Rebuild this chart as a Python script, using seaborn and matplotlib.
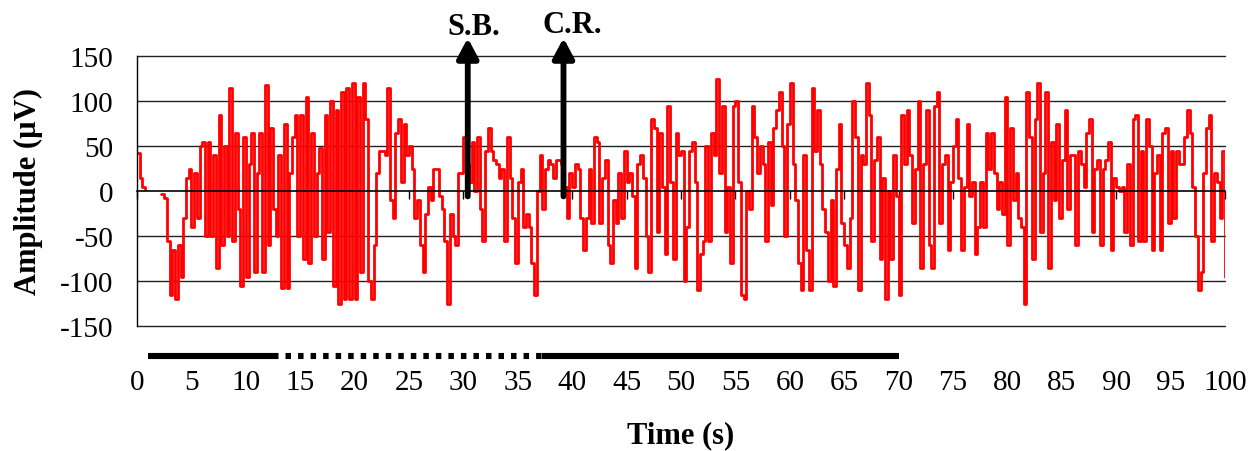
import numpy as np
import pandas as pd
import matplotlib
matplotlib.use("Agg")
import matplotlib.pyplot as plt
import matplotlib.transforms as mtransforms
import seaborn as sns

nan = np.nan
amp_00 = [42, 15, 4, 2, nan, nan, nan, nan, nan, -3, -8, -55, -115, -65, -120, -60,
          -95, -30, 15, 25, -40, 20, -30, 50, 55, -50, 55, -50, 40, -85, 85, -60,
          50, -50, 115, -55, 65, -20, -105, 60]
amp_10 = [-95, 30, 65, -90, 20, 65, -90, 118, -60, 70, -20, -50, 40, -108, 75, -108,
          20, 60, 85, -50, 85, -75, 105, -80, 65, -50, 20, 48, -75, 85, -45, 100,
          -105, 90, -125, 110, -120, 115, -120, 120]
amp_20 = [-120, 105, -90, 120, 80, -100, -120, -60, 20, 45, 45, 40, 115, -10, -30, 65,
          80, 10, 75, 40, 50, 25, -30, -10, -60, -90, -25, 5, -10, 25, 25, -5,
          -20, -55, -125, -25, -50, -60, 20, 20]
amp_30 = [60, 30, 10, 55, 0, 60, -20, -55, 45, 70, 45, 35, 30, 15, 25, -55,
          60, 15, -30, -80, 10, 25, -40, -25, -40, -80, -115, 0, 40, -20, 25, 35,
          30, 15, 35, 35, 30, 5, -30, 20]
amp_40 = [5, 30, 25, -30, -65, -30, 25, -35, 60, 55, -35, 15, 35, -60, -80, -10,
          -35, 20, -30, 45, 10, 20, -5, -85, 30, 40, 15, -50, -90, 80, 70, -45,
          65, 5, -70, 95, 10, -75, 65, 40]
amp_50 = [45, -100, -40, 45, 55, 10, -110, -70, -55, 50, -55, 65, 40, 125, 20, 95,
          -45, 5, -80, 95, 100, 10, -115, -120, 0, -20, 95, 60, 20, 50, 30, -55,
          55, -15, 70, 90, 110, 50, -50, 75]
amp_60 = [120, 30, -10, -80, -110, 40, -65, -110, 115, 45, 90, 30, -20, -45, -100, -10,
          -105, 25, 75, -35, -60, -85, -30, 100, 60, -110, 40, 30, 120, 85, -55, 35,
          60, -75, 15, -120, 0, -75, 40, -5]
amp_70 = [-115, 85, 30, 90, 40, -35, 25, 100, -85, 30, 90, -60, -85, 95, 110, -35,
          30, 40, -65, 10, 50, 80, 15, -65, 5, 75, -5, 10, -70, -40, 10, -40,
          65, 25, 65, 20, -20, 10, -25, 105]
amp_80 = [-60, 70, -10, 20, -30, -40, -125, 110, 60, -75, 80, 120, -45, 20, 110, -85,
          55, -10, 75, -30, 35, 90, -20, 40, 40, -60, 45, 30, 5, 65, 80, -45,
          25, 35, -60, 25, 35, 55, -65, 15]
amp_90 = [5, 0, 5, -45, 30, -60, 80, 85, -55, 45, -55, 80, 50, -65, 20, 40,
          -65, 65, 70, -35, 45, -30, 45, 30, 30, 60, 90, 65, 5, -50, -110, -90,
          20, 70, 85, -55, 20, 10, -30, 45, -95]
sample_step = 0.25

y_ticks = [-150, -100, -50, 0, 50, 100, 150]
x_ticks = list(range(0, 101, 5))

# markers / annotations
events = ["S.B.", "C.R."]
event_times = [30.4, 39.2]
bar_solid = [(1.0, 12.5), (37.2, 70.0)]
bar_dotted = [(12.5, 37.2)]

amplitude = amp_00 + amp_10 + amp_20 + amp_30 + amp_40 + amp_50 + amp_60 + amp_70 + amp_80 + amp_90
time = np.arange(len(amplitude)) * sample_step
df = pd.DataFrame({"Time": time, "Amp": amplitude})
df["seg"] = df["Amp"].isna().cumsum()
df = df.dropna()

sns.set_style("white")
plt.rcParams["font.family"] = ["Liberation Serif", "DejaVu Serif"]
plt.rcParams["text.color"] = "black"
plt.rcParams["axes.labelcolor"] = "black"
plt.rcParams["xtick.color"] = "black"
plt.rcParams["ytick.color"] = "black"

fig = plt.figure(figsize=(12.54, 4.52), dpi=100)
ax = fig.add_axes([137 / 1254, 1 - 327 / 452, 1088 / 1254, 270 / 452])

for seg, sub in df.groupby("seg"):
    sns.lineplot(data=sub, x="Time", y="Amp", ax=ax, color="#ff0000", lw=2.0,
                 drawstyle="steps-post", estimator=None, sort=False, zorder=2)

ax.set_xlim(0, 100)
ax.set_ylim(-150, 150)

# horizontal grid lines
for yv in y_ticks:
    if yv == 0:
        continue
    ax.axhline(yv, color="#222222", lw=1.0, zorder=1, clip_on=False)

# spines
for s in ["top", "right"]:
    ax.spines[s].set_visible(False)
ax.spines["left"].set_color("black")
ax.spines["left"].set_linewidth(1.0)
ax.spines["bottom"].set_position(("data", 0))
ax.spines["bottom"].set_color("black")
ax.spines["bottom"].set_linewidth(1.2)

ax.set_yticks(y_ticks)
ax.set_yticklabels([str(v) for v in y_ticks])
ax.tick_params(axis="y", length=0, pad=17, labelsize=21, labelcolor="black")
ax.set_xticks(x_ticks)
ax.tick_params(axis="x", direction="out", length=6, width=1, color="black",
               labelbottom=False, bottom=True)

# tick labels placed below the plot
sec = ax.secondary_xaxis(-0.158)
sec.set_xticks(x_ticks)
sec.set_xticklabels([str(v) for v in x_ticks])
sec.tick_params(length=0, pad=0, labelsize=21, labelcolor="black")
sec.spines["bottom"].set_visible(False)

# time-period bars
trans = mtransforms.blended_transform_factory(ax.transData, ax.transAxes)
bar_y = -0.111
for a, b in bar_solid:
    ax.plot([a, b], [bar_y, bar_y], transform=trans, color="black", lw=4.4,
            solid_capstyle="butt", clip_on=False)
for a, b in bar_dotted:
    ax.plot([a, b], [bar_y, bar_y], transform=trans, color="black", lw=4.4,
            linestyle=(0, (0.9, 1.15)), dash_capstyle="butt", clip_on=False)

# event arrows
label_y = [174, 177]
label_dx = [0.55, 0.85]
for name, t, ly, dx in zip(events, event_times, label_y, label_dx):
    ax.annotate("", xy=(t, 170), xytext=(t, -6), annotation_clip=False,
                arrowprops=dict(arrowstyle="-|>,head_length=0.6,head_width=0.32",
                                mutation_scale=20, lw=4.2, color="black",
                                shrinkA=0, shrinkB=0))
    ax.text(t + dx, ly, name, ha="center", va="baseline", fontsize=22,
            fontweight="bold", color="black", clip_on=False)

ax.set_ylabel("Amplitude (\u00b5V)", fontsize=22, fontweight="bold", color="black")
ax.yaxis.set_label_coords(-0.086, 0.5)
ax.set_xlabel("Time (s)", fontsize=22, fontweight="bold", color="black")
ax.xaxis.set_label_coords(0.5, -0.35)

fig.savefig("out.png", dpi=100)
